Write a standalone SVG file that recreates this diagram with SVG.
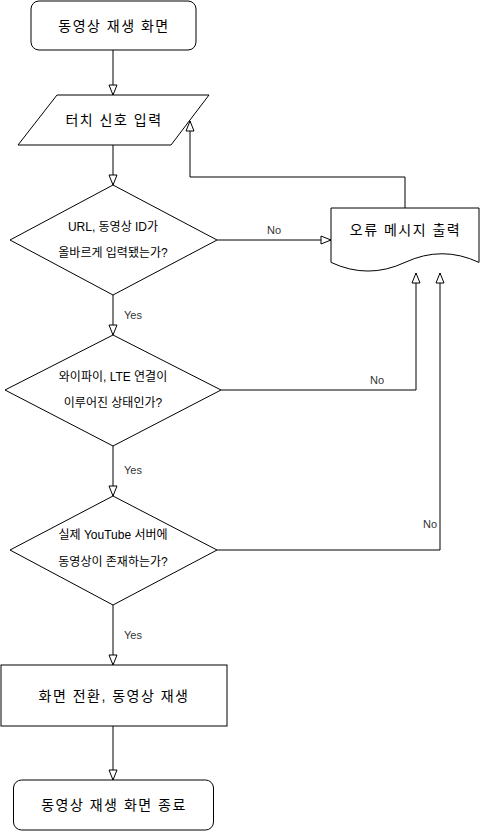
<svg xmlns="http://www.w3.org/2000/svg" width="481" height="831" viewBox="0 0 481 831">
<style>
.n{fill:#fff;stroke:#000;stroke-width:1}
.t{font-family:"Liberation Sans","Noto Sans CJK KR",sans-serif;font-size:14px;letter-spacing:1.5px;fill:#000;text-anchor:middle;dominant-baseline:central}
.s{font-family:"Liberation Sans","Noto Sans CJK KR",sans-serif;font-size:12px;fill:#000;text-anchor:middle;dominant-baseline:central}
.l{font-family:"Liberation Sans","Noto Sans CJK KR",sans-serif;font-size:11px;fill:#333;dominant-baseline:central}
.c{fill:none;stroke:#000;stroke-width:1;marker-end:url(#arr)}
</style>
<defs>
<marker id="arr" viewBox="0 0 12 10" refX="11" refY="5" markerWidth="12" markerHeight="10" markerUnits="userSpaceOnUse" orient="auto" overflow="visible">
<path d="M1,1 L11,5 L1,9 Z" fill="#fff" stroke="#000" stroke-width="1"/>
</marker>
</defs>
<rect width="481" height="831" fill="#fff"/>
<g id="connectors">
<path class="c" d="M113,50 V95"/>
<path class="c" d="M113,145 V185"/>
<path class="c" d="M217,240 H331"/>
<path class="c" d="M113,295 V335"/>
<path class="c" d="M221,390 H416 V273"/>
<path class="c" d="M113,446 V496"/>
<path class="c" d="M217,550 H440 V273"/>
<path class="c" d="M113,605 V665"/>
<path class="c" d="M113,726 V780"/>
<path class="c" d="M405,208 V177 H190 V121"/>
<text class="l" x="267" y="230">No</text>
<text class="l" x="124" y="315">Yes</text>
<text class="l" x="370" y="380">No</text>
<text class="l" x="124" y="470">Yes</text>
<text class="l" x="423" y="524">No</text>
<text class="l" x="124" y="635">Yes</text>
</g>
<g id="start">
<rect class="n" x="31" y="1" width="165" height="49" rx="8" ry="8"/>
<text class="t" x="114" y="25.5">동영상 재생 화면</text>
</g>
<g id="input">
<polygon class="n" points="57,95 209,95 171,145 18,145"/>
<text class="t" x="114" y="120">터치 신호 입력</text>
</g>
<g id="decision1">
<polygon class="n" points="113,185 217,240 113,295 10,240"/>
<text class="s" x="113" y="227">URL, 동영상 ID가</text>
<text class="s" x="113" y="253">올바르게 입력됐는가?</text>
</g>
<g id="decision2">
<polygon class="n" points="113,335 221,390 113,446 5,390"/>
<text class="s" x="113" y="377">와이파이, LTE 연결이</text>
<text class="s" x="113" y="403">이루어진 상태인가?</text>
</g>
<g id="decision3">
<polygon class="n" points="113,496 217,550 113,605 10,550"/>
<text class="s" x="113" y="535">실제 YouTube 서버에</text>
<text class="s" x="113" y="562">동영상이 존재하는가?</text>
</g>
<g id="error">
<path class="n" d="M331,208 H479 V262.4 Q442,245.1 405,262.4 Q368,279.7 331,262.4 Z"/>
<text class="t" x="405.5" y="230">오류 메시지 출력</text>
</g>
<g id="play">
<rect class="n" x="1" y="665" width="226" height="61"/>
<text class="t" x="114" y="695.5">화면 전환, 동영상 재생</text>
</g>
<g id="end">
<rect class="n" x="13.5" y="780" width="200" height="50" rx="8" ry="8"/>
<text class="t" x="114" y="805">동영상 재생 화면 종료</text>
</g>
</svg>
